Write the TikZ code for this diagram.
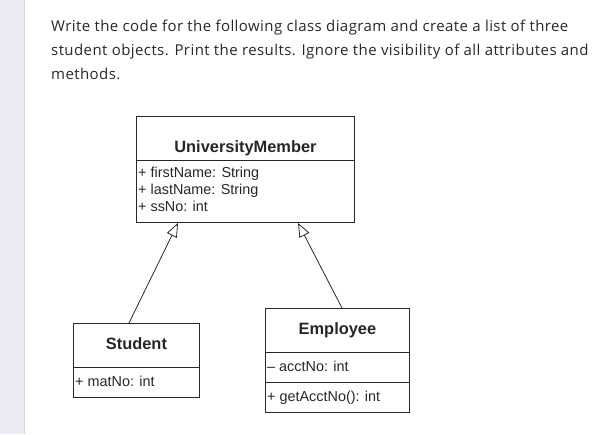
\documentclass[tikz,border=0pt]{standalone}
\usepackage{fontspec}
\setmainfont{Liberation Sans}
\newfontfamily\questfont[LetterSpace=2.8]{Open Sans}
\usetikzlibrary{calc}
\usetikzlibrary{arrows.meta}
\usetikzlibrary{positioning}
\definecolor{stripcol}{RGB}{237,234,246}
\definecolor{stripline}{RGB}{214,212,222}
\definecolor{questcol}{RGB}{40,40,40}
\definecolor{umlcol}{RGB}{40,40,40}

\tikzset{
    compart/.style = {draw = umlcol, line width = 0.9pt, minimum width = #1, inner sep = 0pt, anchor = north west},
    clsname/.style = {font = \fontsize{16.4}{18}\selectfont\bfseries, text = black!85, inner sep = 0pt, anchor = base},
    member/.style = {font = \fontsize{14.4}{17}\selectfont, text = black!85, inner sep = 0pt, anchor = base west},
    quest/.style = {font = \questfont\fontsize{15}{24}\selectfont, text = questcol, inner sep = 0pt, anchor = base west},
    inherit/.style = {draw = umlcol, line width = 0.8pt, -{Triangle[open, length = 14pt, width = 11pt, line width = 0.8pt]}}
}

\begin{document}
\begin{tikzpicture}[x = 1pt, y = -1pt]
    \useasboundingbox (0,0) rectangle (613,434);

    % page strip on the left
    \fill[stripcol] (0,0) rectangle (24,434);
    \draw[stripline, line width = 0.8pt] (24,0) -- (24,434);

    % question text
    \node[quest] (q1) at (51,31) {Write the code for the following class diagram and create a list of three};
    \node[quest] (q2) at (51,55) {student objects. Print the results. Ignore the visibility of all attributes and};
    \node[quest] (q3) at (51,79) {methods.};

    % UniversityMember
    \node[compart = 218pt, minimum height = 44pt] (umHead) at (136,116) {};
    \node[compart = 218pt, minimum height = 62pt] (umAttr) at (136,160) {};
    \node[clsname] (umName) at ($(umHead.north)+(0,36)$) {UniversityMember};
    \node[member] (umA) at ($(umAttr.north west)+(2,17)$) {+ firstName: String};
    \node[member] (umB) at ($(umAttr.north west)+(2,34)$) {+ lastName: String};
    \node[member] (umC) at ($(umAttr.north west)+(2,51)$) {+ ssNo: int};

    % Student
    \node[compart = 126pt, minimum height = 44pt] (stHead) at (73,323) {};
    \node[compart = 126pt, minimum height = 30pt] (stAttr) at (73,367) {};
    \node[clsname] (stName) at ($(stHead.north)+(0,26)$) {Student};
    \node[member] (stA) at ($(stAttr.north west)+(2,19)$) {+ matNo: int};

    % Employee
    \node[compart = 144pt, minimum height = 44pt] (emHead) at (265,308) {};
    \node[compart = 144pt, minimum height = 30pt] (emAttr) at (265,352) {};
    \node[compart = 144pt, minimum height = 30pt] (emOps) at (265,382) {};
    \node[clsname] (emName) at ($(emHead.north)+(0,26)$) {Employee};
    \node[member] (emA) at ($(emAttr.north west)+(2,19)$) {\textendash{} acctNo: int};
    \node[member] (emB) at ($(emOps.north west)+(2,19)$) {+ getAcctNo(): int};

    % generalisation arrows
    \coordinate (stTop) at ($(stHead.north west)+(56,0)$);
    \coordinate (emTop) at ($(emHead.north west)+(77,0)$);
    \coordinate (umLeft) at ($(umAttr.south west)+(42,0)$);
    \coordinate (umRight) at ($(umAttr.south west)+(162,0)$);
    \draw[inherit] (stTop) -- (umLeft);
    \draw[inherit] (emTop) -- (umRight);
\end{tikzpicture}
\end{document}
